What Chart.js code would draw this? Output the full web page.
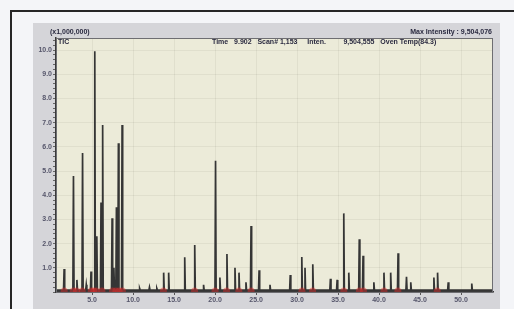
<!DOCTYPE html>
<html>
<head>
<meta charset="utf-8">
<script src="https://cdn.jsdelivr.net/npm/chart.js@4/dist/chart.umd.min.js"></script>
<style>
  html, body { margin: 0; padding: 0; background: #f4f5f8; }
  #wrap { position: relative; width: 514px; height: 309px; overflow: hidden; }
  #frame { position: absolute; left: 10px; top: 10px; width: 600px; height: 400px;
           border-left: 2px solid #262626; border-top: 2px solid #262626; }
  #panel { position: absolute; left: 33px; top: 23px; width: 467px; height: 300px; background: #d5d5d9; }
  canvas { position: absolute; left: 0; top: 0; }
  .lbl { position: absolute; font-family: "Liberation Sans", Arial, sans-serif; font-size: 7px;
         color: #2a2a40; white-space: pre; line-height: 8px; font-weight: bold; }
</style>
</head>
<body>
<div id="wrap">
  <div id="frame"></div>
  <div id="panel"></div>
  <canvas id="chart" width="514" height="309"></canvas>
  <div class="lbl" style="left:50px; top:28px;">(x1,000,000)</div>
  <div class="lbl" style="left:58px; top:38px;">TIC</div>
  <div class="lbl" style="right:22px; top:28px;">Max Intensity : 9,504,076</div>
  <div class="lbl" style="left:212px; top:38px;">Time   9.902   Scan# 1,153     Inten.         9,504,555   Oven Temp(84.3)</div>
</div>
<script>
// retention times (min) and heights (x1,000,000)
const peakTimes = [1.59, 2.73, 3.15, 3.84, 4.29, 4.87, 5.33, 5.58, 6.09, 6.29, 7.44, 7.66, 7.97, 8.21, 8.66,
  10.8, 12.0, 12.9, 13.73, 14.34, 16.30, 17.52, 18.6, 20.06, 20.59, 21.45, 22.43, 22.92, 23.77, 24.39,
  25.37, 26.7, 29.17, 30.58, 30.97, 31.92, 34.07, 34.89, 35.70, 36.31, 37.59, 38.05, 39.37,
  40.60, 41.42, 42.32, 43.35, 43.87, 46.69, 47.14, 48.44, 51.31];
const peakHeights = [0.95, 4.8, 0.5, 5.75, 0.3, 0.85, 9.95, 2.3, 3.7, 6.9, 3.05, 1.0, 3.5, 6.15, 6.9,
  0.15, 0.2, 0.15, 0.8, 0.8, 1.44, 1.94, 0.3, 5.43, 0.6, 1.57, 1.0, 0.8, 0.4, 2.73,
  0.9, 0.3, 0.7, 1.45, 1.0, 1.15, 0.55, 0.5, 3.25, 0.8, 2.18, 1.5, 0.4,
  0.8, 0.8, 1.6, 0.63, 0.4, 0.6, 0.8, 0.4, 0.35];
// red integration marks along the baseline
const markerTimes = [1.6, 2.7, 3.1, 3.8, 4.9, 5.2, 5.5, 6.2, 7.5, 7.9, 8.3, 8.7,
  13.7, 17.5, 20.0, 21.4, 22.9, 24.4, 30.6, 31.9, 35.7, 37.6, 38.1, 40.6, 42.3, 47.1];
const baseline = 0.08;
const xMin = 0.6, xMax = 53.9;
const yMax = 10.5;

// build the trace from the peak table
const trace = [{ x: xMin, y: baseline }];
const halfWidth = 0.07;
peakTimes.forEach((t, i) => {
  trace.push({ x: t - halfWidth, y: baseline });
  trace.push({ x: t, y: peakHeights[i] });
  trace.push({ x: t + halfWidth, y: baseline });
});
trace.push({ x: xMax, y: baseline });

const marks = markerTimes.map(t => ({ x: t, y: 0.04 }));

const plotBg = {
  id: 'plotBg',
  beforeDraw(chart) {
    const a = chart.chartArea, c = chart.ctx;
    c.save();
    c.fillStyle = '#ecebd9';
    c.fillRect(a.left, a.top, a.right - a.left, a.bottom - a.top);
    c.restore();
  },
  afterDraw(chart) {
    const a = chart.chartArea, c = chart.ctx;
    c.save();
    c.strokeStyle = '#6e6e72';
    c.lineWidth = 1;
    c.strokeRect(a.left + 0.5, a.top + 0.5, a.right - a.left - 1, a.bottom - a.top);
    c.restore();
  }
};

const isInt = v => Math.abs(v - Math.round(v)) < 1e-6;

new Chart(document.getElementById('chart'), {
  type: 'scatter',
  data: {
    datasets: [
      { data: marks, pointRadius: 3.5, backgroundColor: 'rgba(225,45,45,0.45)', borderWidth: 0, order: 0 },
      { data: trace, showLine: true, pointRadius: 0, borderColor: '#353535', borderWidth: 1.7, tension: 0, order: 1 }
    ]
  },
  options: {
    responsive: false,
    animation: false,
    layout: { padding: { left: 33, top: 38, right: 21, bottom: 0 } },
    plugins: { legend: { display: false }, tooltip: { enabled: false } },
    scales: {
      x: {
        type: 'linear', min: xMin, max: xMax,
        afterFit: s => { s.height = 17; },
        ticks: {
          stepSize: 5, includeBounds: false, autoSkip: false, maxRotation: 0, padding: 1,
          font: { family: 'Liberation Sans', size: 7, weight: 'bold' }, color: '#55556a',
          callback: v => (isInt(v / 5) && v > 0) ? v.toFixed(1) : ''
        },
        grid: { color: 'rgba(0,0,0,0.05)', tickLength: 3, tickColor: '#555' },
        border: { color: '#3a3a3a', width: 1.5 }
      },
      y: {
        min: 0, max: yMax,
        afterFit: s => { s.width = 23; },
        ticks: {
          stepSize: 0.2, includeBounds: false, autoSkip: false, padding: 1,
          font: { family: 'Liberation Sans', size: 7, weight: 'bold' }, color: '#55556a',
          callback: v => (isInt(v) && v > 0) ? v.toFixed(1) : ''
        },
        grid: {
          color: ctx => (isInt(ctx.tick.value) && ctx.tick.value > 0) ? 'rgba(0,0,0,0.05)' : 'rgba(0,0,0,0)',
          tickLength: 3, tickColor: '#666'
        },
        border: { color: '#3a3a3a', width: 1.5 }
      }
    }
  },
  plugins: [plotBg]
});
</script>
</body>
</html>
